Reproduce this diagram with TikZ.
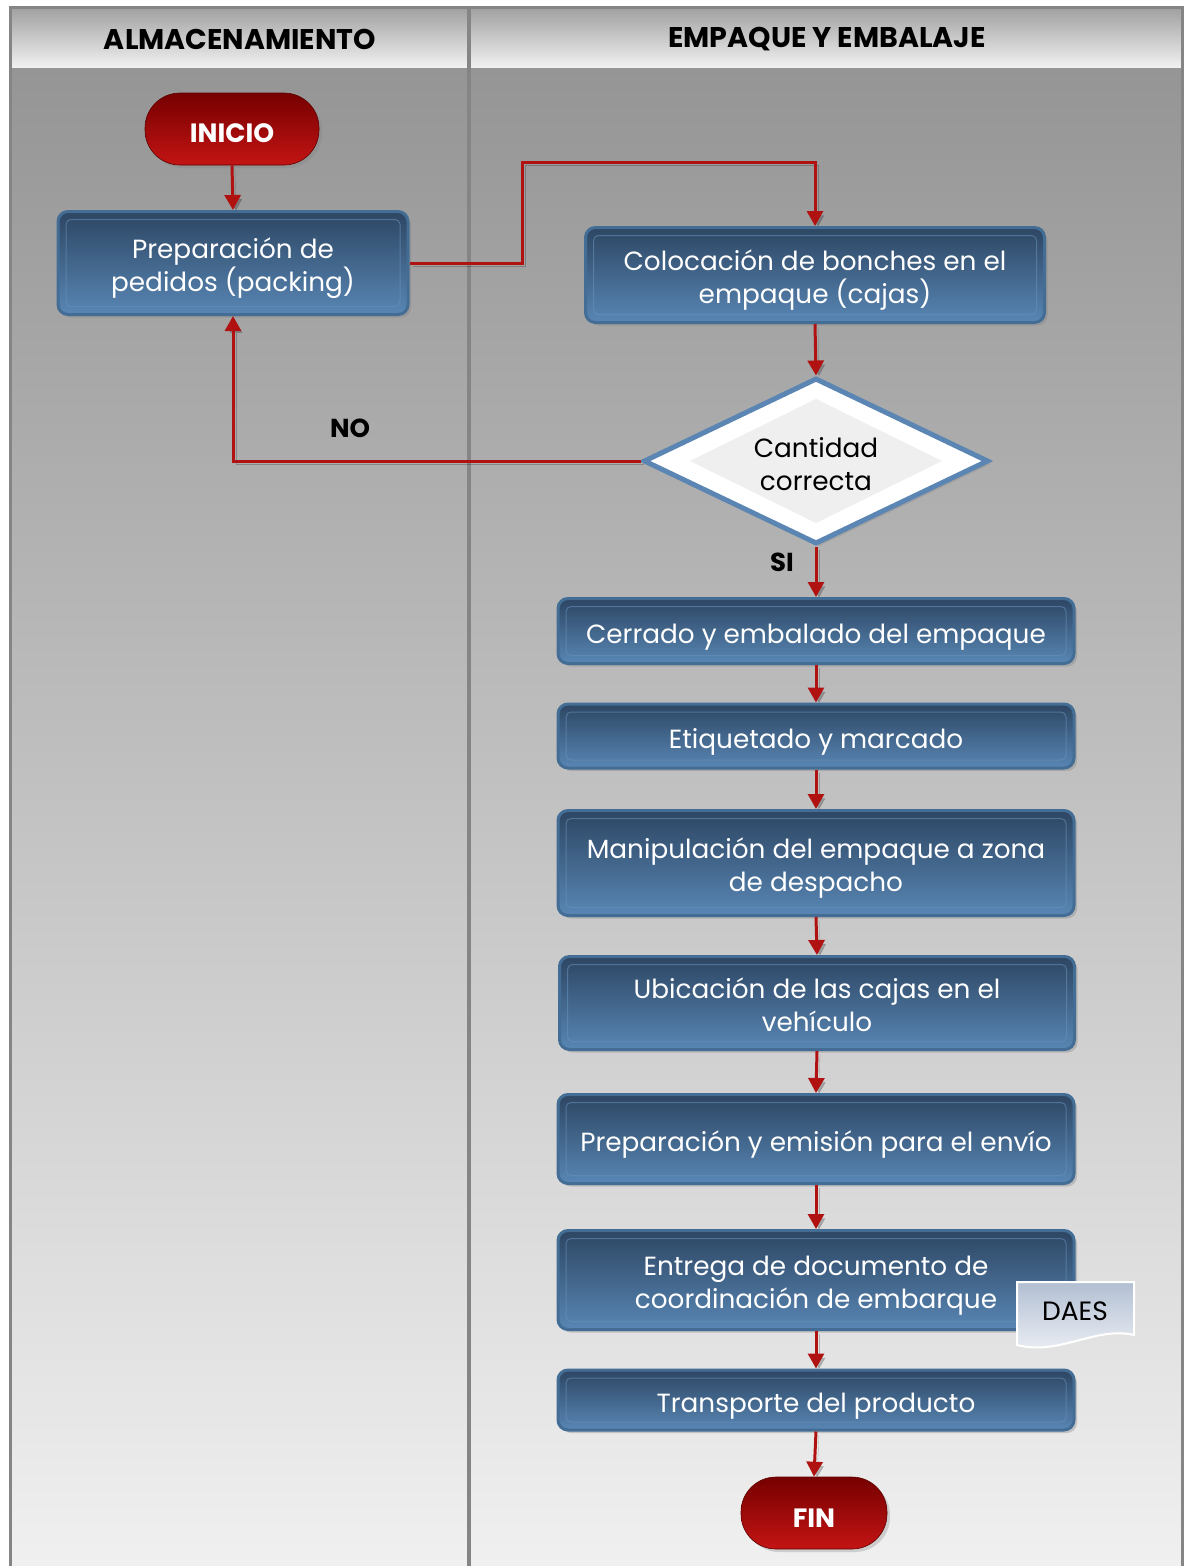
\documentclass[tikz,border=0pt]{standalone}
\usepackage{fontspec}
\setmainfont{Poppins}
\usetikzlibrary{shapes.geometric,arrows.meta,shadows}

\definecolor{frameline}{HTML}{858585}
\definecolor{bodytop}{HTML}{959595}
\definecolor{bodybot}{HTML}{F0F0F0}
\definecolor{headtop}{HTML}{A2A2A2}
\definecolor{headbot}{HTML}{F0F0F0}
\definecolor{boxtop}{HTML}{2D4663}
\definecolor{boxmid}{HTML}{375777}
\definecolor{boxbot}{HTML}{5886B4}
\definecolor{boxrim}{HTML}{446D96}
\definecolor{boxbevel}{HTML}{6A93BC}
\definecolor{pilltop}{HTML}{760000}
\definecolor{pillbot}{HTML}{C41414}
\definecolor{flowred}{HTML}{B01212}
\definecolor{diarim}{HTML}{5B86B3}
\definecolor{diainner}{HTML}{EFEFEF}
\definecolor{doctop}{HTML}{B2BFD2}
\definecolor{docbot}{HTML}{EEF1F6}

\newcommand\boxfont{\fontsize{26.3}{33}\selectfont}
\newcommand\headfont{\fontsize{28.5}{32}\selectfont\bfseries}

\tikzset{
  % fixed text-box height and depth keep the lines optically centred
  lowtext/.style={execute at begin node={\rule{0pt}{32pt}},
    execute at end node={\rule[-6.5pt]{0pt}{0pt}}},
  twoline/.style={execute at begin node={\rule{0pt}{64pt}}},
  procbox/.style={rectangle, rounded corners=10pt, draw=boxrim, line width=3pt,
    top color=boxtop, middle color=boxmid, bottom color=boxbot,
    text=white, font=\boxfont, align=center, inner sep=0pt, lowtext,
    drop shadow={opacity=0.35, shadow xshift=3pt, shadow yshift=-3pt},
    path picture={\draw[boxbevel, opacity=0.55, line width=1pt, rounded corners=5pt]
      ([shift={(8pt,8pt)}]path picture bounding box.south west) rectangle
      ([shift={(-8pt,-8pt)}]path picture bounding box.north east);}},
  pill/.style={rectangle, rounded corners=35pt, top color=pilltop, bottom color=pillbot,
    draw=pilltop!80!black, line width=0.6pt, text=white,
    font=\fontsize{26.5}{30}\selectfont\bfseries, inner sep=0pt,
    execute at begin node={\rule{0pt}{28pt}},
    drop shadow={opacity=0.3, shadow xshift=3pt, shadow yshift=-3pt}},
  decision/.style={diamond, aspect=2.06, minimum width=345pt, minimum height=166pt,
    inner sep=0pt, draw=diarim, line width=5pt, fill=white, align=center,
    font=\boxfont, lowtext, execute at begin node={\rule{0pt}{66pt}},
    drop shadow={opacity=0.3, shadow xshift=3pt, shadow yshift=-3pt},
    path picture={\fill[diainner] (path picture bounding box.center) +(-126,0)
      -- +(0,-62) -- +(126,0) -- +(0,62) -- cycle;}},
  flow/.style={draw=flowred, line width=3pt, -{Triangle[length=15pt,width=16pt]},
    preaction={draw=black, opacity=0.22, transform canvas={xshift=3pt,yshift=-3pt}}},
  answer/.style={font=\fontsize{26}{30}\selectfont\bfseries, text=black}
}

\begin{document}
\begin{tikzpicture}[x=1pt,y=-1pt]
\useasboundingbox (0,0) rectangle (1184,1566);

% lanes: body, headers and frame
\shade[top color=bodytop, bottom color=bodybot] (11,67) rectangle (1182,1566);
\shade[top color=headtop, bottom color=headbot] (11,9) rectangle (1182,67);
\draw[frameline, line width=3.5pt] (10.5,1570) -- (10.5,7.5) -- (1182.5,7.5) -- (1182.5,1570);
\draw[frameline, line width=4pt] (469,9) -- (469,1570);

\node[font=\headfont] (lane1) at (240,39) {ALMACENAMIENTO};
\node[font=\headfont] (lane2) at (827,39) {EMPAQUE Y EMBALAJE};

% process nodes
\node[pill, minimum width=174pt, minimum height=72pt] (inicio) at (232,129) {INICIO};
\node[procbox, twoline, minimum width=350pt, minimum height=103pt] (prep) at (233,263)
  {Preparación de\\pedidos (packing)};
\node[procbox, twoline, minimum width=459pt, minimum height=95pt] (col) at (815,275)
  {Colocación de bonches en el\\empaque (cajas)};
\node[decision] (dec) at (816,461) {Cantidad\\correcta};
\node[procbox, minimum width=516pt, minimum height=65pt] (cerr) at (816,631)
  {Cerrado y embalado del empaque};
\node[procbox, minimum width=516pt, minimum height=64pt] (etiq) at (816,736)
  {Etiquetado y marcado};
\node[procbox, twoline, minimum width=516pt, minimum height=105pt] (manip) at (816,863)
  {Manipulación del empaque a zona\\de despacho};
\node[procbox, twoline, minimum width=515pt, minimum height=93pt] (ubic) at (817,1003)
  {Ubicación de las cajas en el\\vehículo};
\node[procbox, minimum width=516pt, minimum height=89pt] (emis) at (816,1139)
  {Preparación y emisión para el envío};
\node[procbox, twoline, minimum width=516pt, minimum height=99pt] (entr) at (816,1280)
  {Entrega de documento de\\coordinación de embarque};
\node[procbox, minimum width=516pt, minimum height=60pt] (trans) at (816,1400)
  {Transporte del producto};
\node[pill, minimum width=146pt, minimum height=72pt] (fin) at (814,1513) {FIN};

% document attached to the delivery step
\shade[top color=doctop, bottom color=docbot]
  (1017,1282) -- (1134,1282) -- (1134,1335)
  .. controls (1095,1326) and (1060,1356) .. (1017,1345) -- cycle;
\draw[white, line width=2pt]
  (1017,1282) -- (1134,1282) -- (1134,1335)
  .. controls (1095,1326) and (1060,1356) .. (1017,1345) -- cycle;
\node[font=\fontsize{26.5}{30}\selectfont, text=black] (daes) at (1075,1311) {DAES};

% connectors
\draw[flow] (inicio.south) -- (prep.north);
\draw[flow] (prep.east) -| (522,162) -| (col.north);
\draw[flow] (col.south) -- (dec.north);
\draw[flow] (dec.west) -| (prep.south);
\draw[flow] (dec.south) -- (cerr.north);
\draw[flow] (cerr.south) -- (etiq.north);
\draw[flow] (etiq.south) -- (manip.north);
\draw[flow] (manip.south) -- (ubic.north);
\draw[flow] (ubic.south) -- (emis.north);
\draw[flow] (emis.south) -- (entr.north);
\draw[flow] (entr.south) -- (trans.north);
\draw[flow] (trans.south) -- (fin.north);

\node[answer] (no) at (350,428) {NO};
\node[answer] (si) at (782,562) {SI};
\end{tikzpicture}
\end{document}
